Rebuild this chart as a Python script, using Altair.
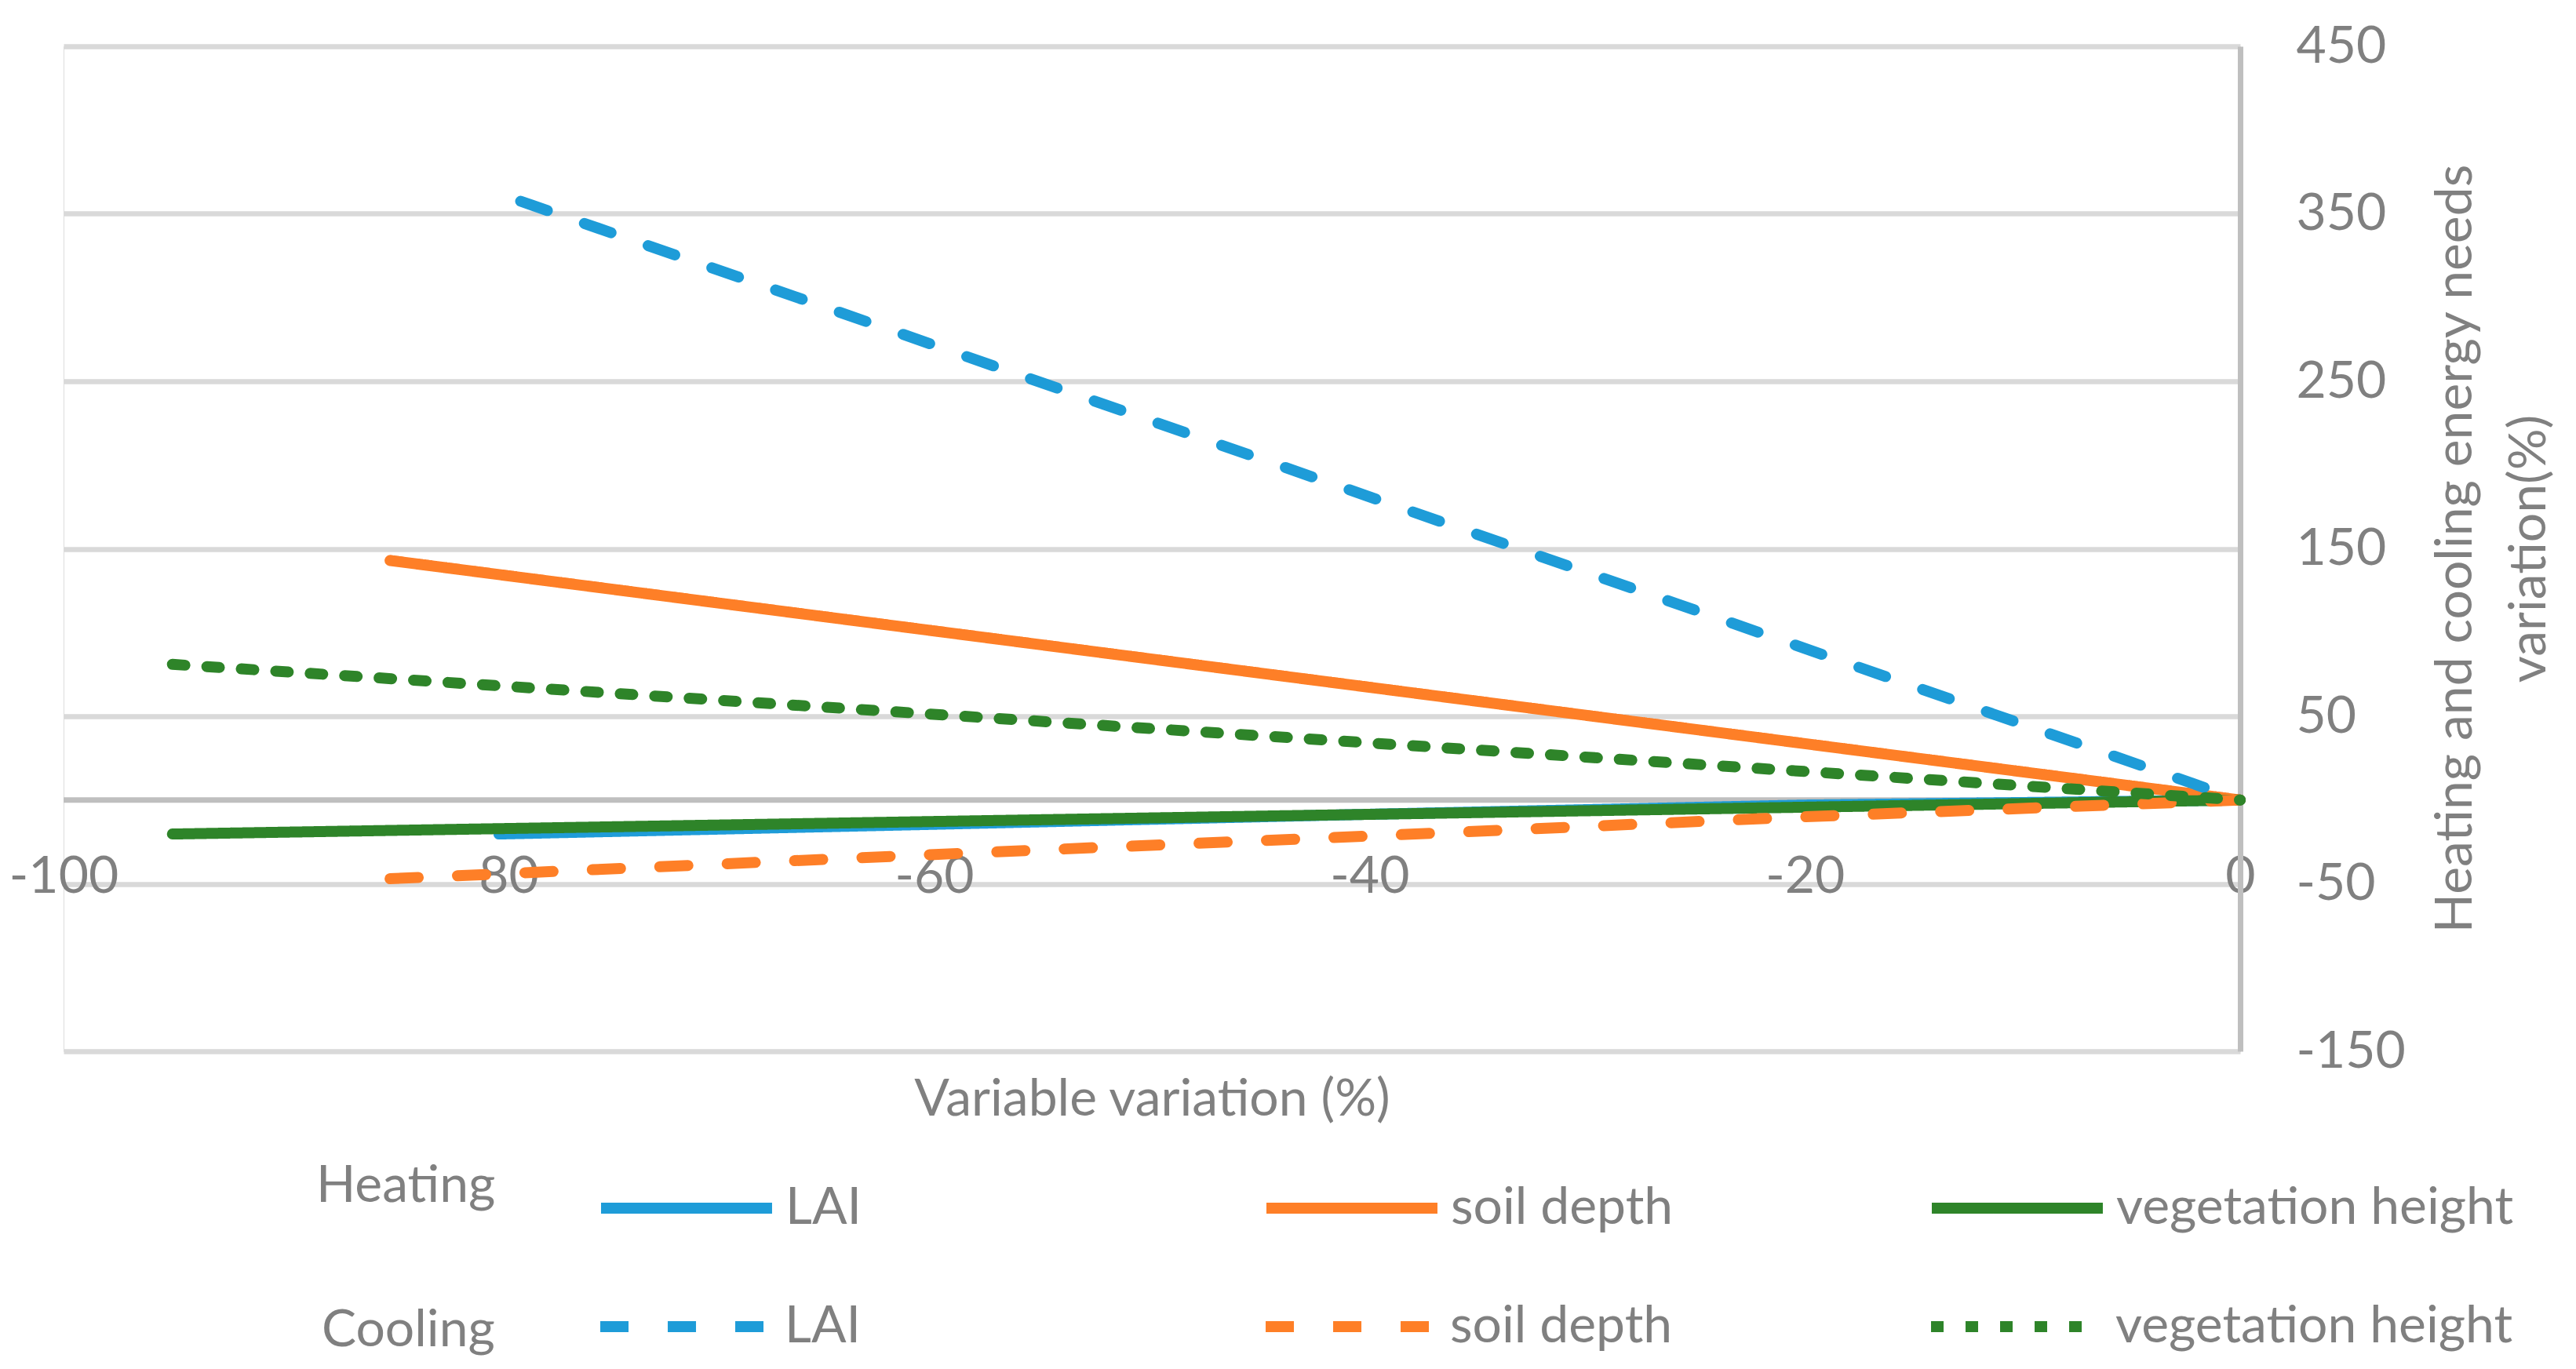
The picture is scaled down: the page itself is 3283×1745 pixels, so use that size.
import altair as alt
import pandas as pd

# ---------------- data ----------------
x_ticks = [-100, -80, -60, -40, -20, 0]
y_ticks = [-150, -50, 50, 150, 250, 350, 450]
series_names = ["LAI", "soil depth", "vegetation height"]
series_colors = ["#1E9CD8", "#FE7F27", "#2E8429"]

heat_lai_x = [-80, -60, -40, -20, 0]
heat_lai_y = [-20.3, -14.5, -8.5, -3, 0]
heat_soil_x = [-85, 0]
heat_soil_y = [143, 0]
heat_veg_x = [-95, 0]
heat_veg_y = [-20.3, 0]

cool_lai_x = [-79, 0]
cool_lai_y = [357.5, 0]
cool_soil_x = [-85, -60, -40, -20, 0]
cool_soil_y = [-47, -32.5, -21.5, -10, 0]
cool_veg_x = [-95, 0]
cool_veg_y = [81, 0]

zero_line = [0]


def frame(pairs):
    rows = []
    for name, xs, ys in pairs:
        for i, (xv, yv) in enumerate(zip(xs, ys)):
            rows.append({"series": name, "x": xv, "y": yv, "i": i})
    return pd.DataFrame(rows)


heat_df = frame([
    ("LAI", heat_lai_x, heat_lai_y),
    ("soil depth", heat_soil_x, heat_soil_y),
    ("vegetation height", heat_veg_x, heat_veg_y),
])
cool_df = frame([
    ("LAI", cool_lai_x, cool_lai_y),
    ("soil depth", cool_soil_x, cool_soil_y),
    ("vegetation height", cool_veg_x, cool_veg_y),
])
zero_df = pd.DataFrame({"y": zero_line})

# ---------------- styling ----------------
GRAY = "#808080"
FONT = "Lato"
FS = 66

W, H = 2774, 1281

x_scale = alt.Scale(domain=[-100, 0], nice=False, zero=False)
y_scale = alt.Scale(domain=[-150, 450], nice=False, zero=False)

x_axis = alt.Axis(
    orient="bottom", values=x_ticks, grid=False, domain=False, ticks=False,
    tickSize=0, labelPadding=-223, labelBaseline="middle", labelFlush=False,
    labelOverlap=False, labelExpr="'' + datum.value",
    labelFont=FONT, labelFontSize=FS, labelColor=GRAY,
    title="Variable variation (%)", titleFont=FONT, titleFontSize=FS,
    titleFontWeight="normal", titleColor=GRAY, titleY=61,
    titleBaseline="middle",
)
y_axis = alt.Axis(
    orient="right", values=y_ticks, grid=True, gridColor="#d9d9d9",
    gridWidth=6.5, domain=True, domainColor="#bfbfbf", domainWidth=7,
    ticks=False, tickSize=0, labelPadding=71, labelOverlap=False,
    labelExpr="'' + datum.value",
    labelFont=FONT, labelFontSize=FS, labelColor=GRAY,
    title=["Heating and cooling energy needs", "variation(%)"],
    titleFont=FONT, titleFontSize=FS, titleFontWeight="normal",
    titleColor=GRAY, titleAngle=270, titleAlign="center",
    titleBaseline="alphabetic", titleX=294, titleY=640, titleLineHeight=94,
)

X = alt.X("x:Q", scale=x_scale, axis=x_axis)
Y = alt.Y("y:Q", scale=y_scale, axis=y_axis)


def legend(title, lx, ly, title_lh):
    return alt.Legend(
        title=title, orient="none", legendX=lx, legendY=ly,
        direction="horizontal", columns=3, titleOrient="left",
        symbolType="stroke", symbolSize=47500, labelFont=FONT,
        labelFontSize=FS, labelColor=GRAY, titleFont=FONT,
        titleFontSize=FS, titleColor=GRAY, titleFontWeight="normal",
        labelOffset=10, columnPadding=78, gridAlign="all",
        labelLimit=1200, titleLimit=1200,
        titlePadding=127, titleAnchor="middle", titleBaseline="line-top",
        titleLineHeight=title_lh,
    )


def lines(df, title, lx, ly, title_lh, dashes, widths):
    lg = legend(title, lx, ly, title_lh)
    return alt.Chart(df).mark_line(strokeCap="round", strokeJoin="round").encode(
        x=X,
        y=Y,
        order="i:Q",
        color=alt.Color("series:N", scale=alt.Scale(domain=series_names, range=series_colors), legend=lg),
        strokeDash=alt.StrokeDash("series:N", scale=alt.Scale(domain=series_names, range=dashes), legend=lg),
        strokeWidth=alt.StrokeWidth("series:N", scale=alt.Scale(domain=series_names, range=widths), legend=lg),
    )


zero_rule = alt.Chart(zero_df).mark_rule(color="#bfbfbf", strokeWidth=7).encode(y=Y)

heat = lines(heat_df, "Heating", 322, 1365, 27,
             [[1, 0], [1, 0], [1, 0]], [14, 14, 7])
cool = lines(cool_df, "Cooling", 329, 1516, 93,
             [[36, 50], [36, 50], [16, 28]], [14, 14, 6.5])

chart = alt.layer(zero_rule, heat, cool).resolve_scale(
    color="independent", strokeDash="independent", strokeWidth="independent"
).properties(
    width=W, height=H,
    autosize=alt.AutoSizeParams(type="none"),
    padding={"left": 73, "top": 51, "right": 414, "bottom": 391},
).configure_view(stroke=None).configure(background="white")

chart.save("out.html", embed_options={"renderer": "svg", "actions": False})
